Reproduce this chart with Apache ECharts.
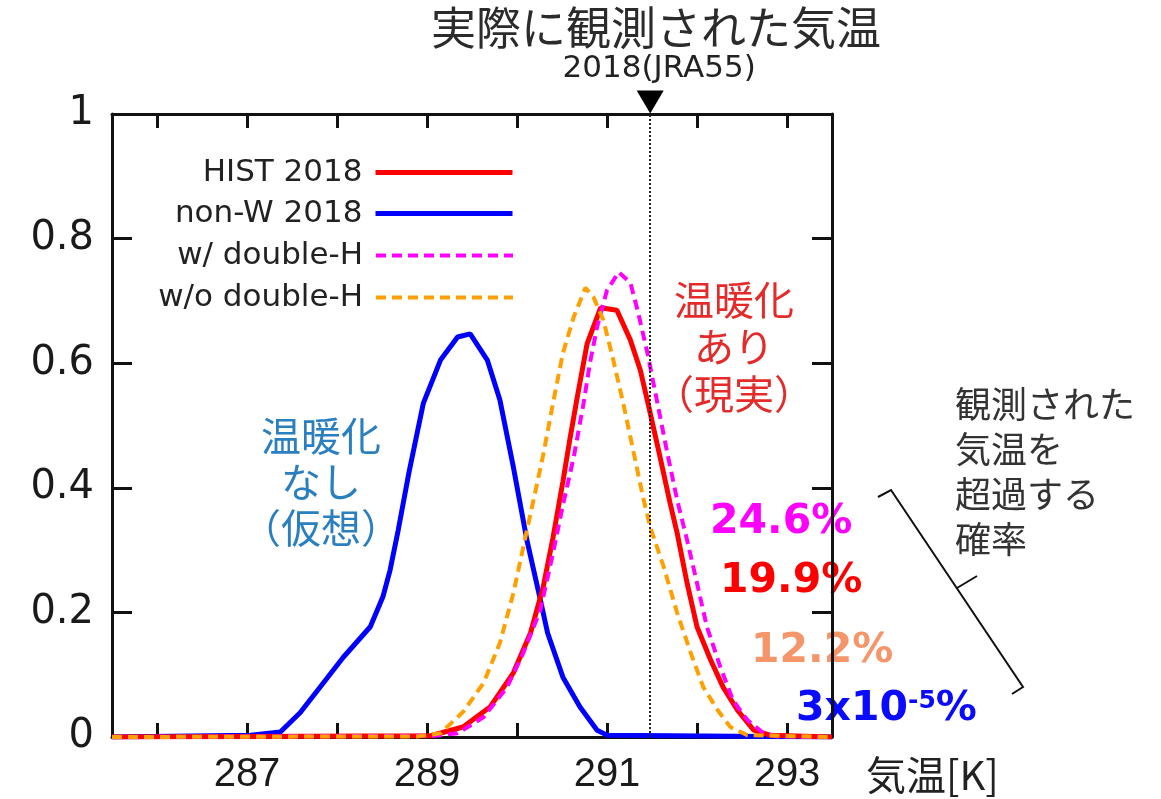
<!DOCTYPE html>
<html>
<head>
<meta charset="utf-8">
<title>実際に観測された気温</title>
<script src="https://cdn.jsdelivr.net/npm/echarts@6/dist/echarts.min.js"></script>
<style>
html, body { margin: 0; padding: 0; background: #fff; }
#chart { width: 1161px; height: 799px; }
</style>
</head>
<body>
<div id="chart"></div>
<script>
//////////// データ ////////////
// 観測値 2018 (JRA55) [K]
var obsTemp = 291.48;

// [気温 K, 確率密度]
var hist2018 = [
	[285.5, 0], [289.04, 0.002], [289.4, 0.016], [289.7, 0.048], [289.96, 0.103],
	[290.15, 0.167], [290.29, 0.24], [290.4, 0.32], [290.51, 0.41], [290.59, 0.48],
	[290.67, 0.546], [290.78, 0.632], [290.93, 0.689], [291.11, 0.685], [291.26, 0.637],
	[291.37, 0.589], [291.48, 0.52], [291.59, 0.449], [291.7, 0.376], [291.78, 0.327],
	[291.89, 0.247], [292.0, 0.177], [292.15, 0.124], [292.29, 0.08], [292.45, 0.043],
	[292.63, 0.011], [292.81, 0.003], [293.5, 0]
];
var nonW2018 = [
	[285.5, 0], [287.04, 0.003], [287.37, 0.008], [287.59, 0.039], [287.85, 0.087],
	[288.07, 0.128], [288.37, 0.177], [288.51, 0.225], [288.59, 0.268], [288.68, 0.332],
	[288.8, 0.425], [288.96, 0.536], [289.15, 0.605], [289.34, 0.642], [289.48, 0.647],
	[289.67, 0.605], [289.81, 0.541], [289.96, 0.433], [290.11, 0.316], [290.26, 0.22],
	[290.34, 0.167], [290.51, 0.096], [290.7, 0.048], [290.89, 0.011], [291.0, 0.003],
	[293.5, 0]
];
var wDoubleH = [
	[285.5, 0], [289.1, 0.002], [289.34, 0.006], [289.63, 0.032], [289.89, 0.08],
	[290.07, 0.135], [290.26, 0.204], [290.4, 0.295], [290.51, 0.372], [290.63, 0.449],
	[290.74, 0.536], [290.81, 0.6], [290.89, 0.658], [291.0, 0.717], [291.13, 0.746],
	[291.26, 0.729], [291.34, 0.685], [291.45, 0.616], [291.56, 0.536], [291.67, 0.456],
	[291.78, 0.38], [291.89, 0.316], [292.0, 0.247], [292.11, 0.177], [292.26, 0.112],
	[292.4, 0.059], [292.56, 0.027], [292.74, 0.006], [292.89, 0.001], [293.5, 0]
];
var woDoubleH = [
	[285.5, 0], [288.9, 0.001], [289.15, 0.006], [289.4, 0.04], [289.63, 0.087],
	[289.81, 0.151], [289.96, 0.231], [290.07, 0.305], [290.18, 0.378], [290.29, 0.452],
	[290.4, 0.536], [290.51, 0.616], [290.63, 0.674], [290.76, 0.721], [290.85, 0.706],
	[290.96, 0.669], [291.07, 0.605], [291.18, 0.536], [291.29, 0.461], [291.4, 0.385],
	[291.48, 0.337], [291.63, 0.273], [291.78, 0.199], [291.93, 0.135], [292.07, 0.08],
	[292.23, 0.043], [292.37, 0.016], [292.56, 0.003], [293.5, 0]
];

var seriesNames = ['HIST 2018', 'non-W 2018', 'w/ double-H', 'w/o double-H'];
var seriesColors = ['#ff0000', '#0000ff', '#ff00ff', '#ffa000'];
var xTickValues = [286, 287, 288, 289, 290, 291, 292, 293];
var xLabelValues = [287, 289, 291, 293];
var yTickValues = [0.2, 0.4, 0.6, 0.8];

// 超過確率
var exceedTexts = ['24.6%', '19.9%', '12.2%'];
var exceedColors = ['#ff00ff', '#ff0000', '#f5956a'];

var CJK = '"Noto Sans CJK JP", sans-serif';
var SANS = '"DejaVu Sans", sans-serif';

//////////// チャート ////////////
showTempChart();

function showTempChart() {
	var chart = echarts.init(document.getElementById('chart'));

	var axisColor = '#111';

	// 凡例 (テキスト右寄せ、線は右側)
	var legends = [];
	var legendTops = [157, 198, 240, 282];
	var legendWidths = [5, 5, 4, 4];
	for (var i = 0; i < seriesNames.length; i++) {
		legends.push({
			data: [seriesNames[i]],
			right: 646,
			top: legendTops[i],
			align: 'right',
			padding: 0,
			itemWidth: 137,
			itemHeight: 30,
			itemStyle: { opacity: 0 },
			lineStyle: { width: legendWidths[i] },
			textStyle: { fontSize: 31, color: '#222', fontFamily: SANS, padding: [0, 8, 0, 0] }
		});
	}

	var graphics = [
		{
			type: 'text', x: 656, y: 28,
			style: { text: '実際に観測された気温', font: 'normal 45px ' + CJK, fill: '#2b2b2b', align: 'center', verticalAlign: 'middle' }
		},
		{
			type: 'text', x: 321, y: 482,
			style: { text: '温暖化\nなし\n（仮想）', font: 'normal 40px ' + CJK, lineHeight: 46, fill: '#2a7fc1', align: 'center', verticalAlign: 'middle' }
		},
		{
			type: 'text', x: 734, y: 347,
			style: { text: '温暖化\nあり\n（現実）', font: 'normal 40px ' + CJK, lineHeight: 47, fill: '#e52a2a', align: 'center', verticalAlign: 'middle' }
		},
		{
			type: 'text', x: 955, y: 472,
			style: { text: '観測された\n気温を\n超過する\n確率', font: 'normal 36px ' + CJK, lineHeight: 45, fill: '#333', align: 'left', verticalAlign: 'middle' }
		},
		{
			type: 'text', x: 866, y: 775,
			style: { text: '気温[K]', font: 'normal 40px ' + CJK, fill: '#222', align: 'left', verticalAlign: 'middle' }
		},
		{
			type: 'polyline',
			shape: { points: [[878, 497], [891, 490], [1023, 687], [1012, 694]] },
			style: { stroke: '#111', lineWidth: 2, fill: null }
		},
		{
			type: 'line',
			shape: { x1: 957, y1: 588, x2: 977, y2: 576 },
			style: { stroke: '#111', lineWidth: 2 }
		}
	];

	var exceedX = [710, 720, 751];
	var exceedY = [522, 581, 651];
	for (var k = 0; k < exceedTexts.length; k++) {
		graphics.push({
			type: 'text', x: exceedX[k], y: exceedY[k],
			style: { text: exceedTexts[k], font: 'bold 41px ' + SANS, fill: exceedColors[k], align: 'left', verticalAlign: 'middle' }
		});
	}
	graphics.push({
		type: 'text', x: 796, y: 709,
		style: {
			text: '{a|3x10}{s|-5}{a|%}',
			align: 'left', verticalAlign: 'middle',
			rich: {
				a: { font: 'bold 41px ' + SANS, fill: '#0a0aff', color: '#0a0aff' },
				s: { font: 'bold 25px ' + SANS, fill: '#0a0aff', color: '#0a0aff', verticalAlign: 'top', lineHeight: 40 }
			}
		}
	});

	var option = {
		animation: false,
		backgroundColor: '#fff',
		textStyle: { fontFamily: SANS },
		grid: { left: 112, top: 114, width: 720, height: 623, containLabel: false },
		legend: legends,
		xAxis: [
			{
				type: 'value', position: 'bottom', min: 285.5, max: 293.5, interval: 0.5,
				axisLine: { show: true, onZero: false, lineStyle: { color: axisColor, width: 3 } },
				axisTick: { show: true, inside: true, length: 14, customValues: xTickValues, lineStyle: { color: axisColor, width: 3 } },
				axisLabel: { customValues: xLabelValues, margin: 18, fontSize: 40, color: '#1a1a1a', fontFamily: '"Liberation Sans Narrow", "Liberation Sans", sans-serif' },
				splitLine: { show: false }
			},
			{
				type: 'value', position: 'top', min: 285.5, max: 293.5, interval: 0.5,
				axisLine: { show: true, onZero: false, lineStyle: { color: axisColor, width: 3 } },
				axisTick: { show: true, inside: true, length: 14, customValues: xTickValues, lineStyle: { color: axisColor, width: 3 } },
				axisLabel: { show: false },
				splitLine: { show: false }
			}
		],
		yAxis: [
			{
				type: 'value', position: 'left', min: 0, max: 1, interval: 0.2,
				axisLine: { show: true, onZero: false, lineStyle: { color: axisColor, width: 3 } },
				axisTick: { show: true, inside: true, length: 20, customValues: yTickValues, lineStyle: { color: axisColor, width: 3 } },
				axisLabel: { margin: 18, fontSize: 40, color: '#1a1a1a', fontFamily: SANS },
				splitLine: { show: false }
			},
			{
				type: 'value', position: 'right', min: 0, max: 1, interval: 0.2,
				axisLine: { show: true, onZero: false, lineStyle: { color: axisColor, width: 3 } },
				axisTick: { show: true, inside: true, length: 20, customValues: yTickValues, lineStyle: { color: axisColor, width: 3 } },
				axisLabel: { show: false },
				splitLine: { show: false }
			}
		],
		series: [
			{
				name: seriesNames[0], type: 'line', data: hist2018, symbol: 'none',
				lineStyle: { color: seriesColors[0], width: 5 }, itemStyle: { color: seriesColors[0] },
				z: 3,
				markLine: {
					silent: true, symbol: ['none', 'none'], label: { show: false },
					lineStyle: { type: 'dotted', color: '#222', width: 2 },
					data: [{ xAxis: obsTemp }]
				},
				markPoint: {
					silent: true,
					data: [{
						coord: [obsTemp, 1],
						symbol: 'path://M0,0 L26,0 L13,22 Z',
						symbolSize: [27, 23],
						symbolOffset: [0, -12],
						itemStyle: { color: '#000' },
						label: {
							show: true, position: 'top', distance: 6, offset: [9, 0],
							formatter: '2018(JRA55)', fontSize: 31, color: '#222', fontFamily: SANS
						}
					}]
				}
			},
			{
				name: seriesNames[1], type: 'line', data: nonW2018, symbol: 'none',
				lineStyle: { color: seriesColors[1], width: 5 }, itemStyle: { color: seriesColors[1] },
				z: 2
			},
			{
				name: seriesNames[2], type: 'line', data: wDoubleH, symbol: 'none',
				lineStyle: { color: seriesColors[2], width: 4, type: [10, 6] }, itemStyle: { color: seriesColors[2] },
				z: 4
			},
			{
				name: seriesNames[3], type: 'line', data: woDoubleH, symbol: 'none',
				lineStyle: { color: seriesColors[3], width: 4, type: [10, 6] }, itemStyle: { color: seriesColors[3] },
				z: 4
			}
		],
		graphic: graphics
	};

	chart.setOption(option);
}
</script>
</body>
</html>
